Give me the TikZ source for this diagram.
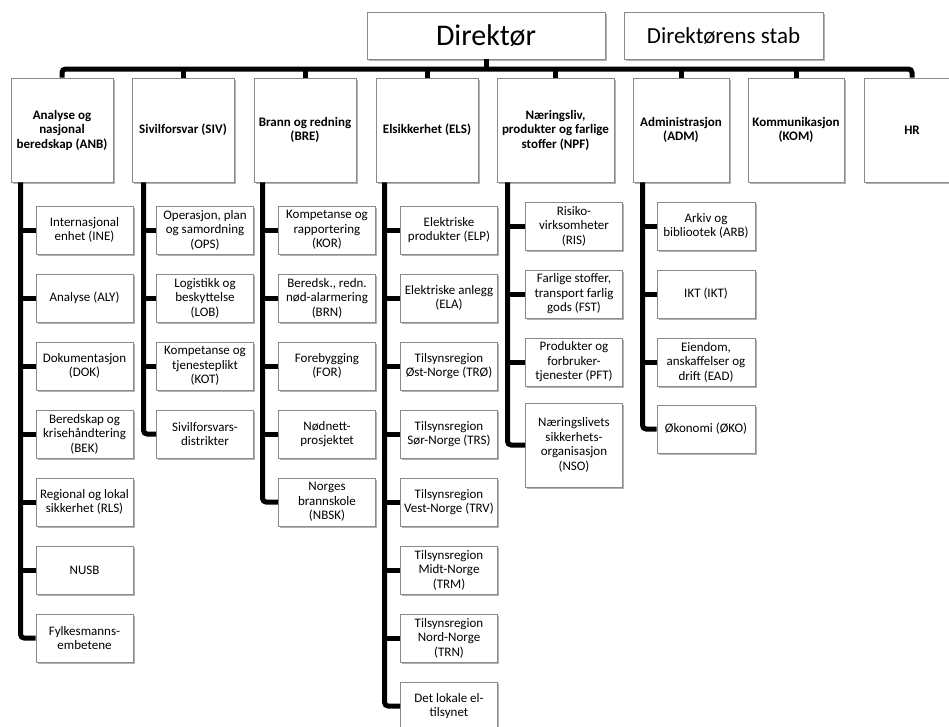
\documentclass[tikz,border=0pt]{standalone}
\usepackage{fontspec}
\setmainfont{Carlito}
\usetikzlibrary{shadows}
\definecolor{edge}{HTML}{8A8A8A}
\begin{document}
\begin{tikzpicture}[x=1pt,y=-1pt,
  box/.style={draw=edge, line width=0.9pt, fill=white, align=center, inner sep=0pt,
    drop shadow={shadow xshift=1.5pt, shadow yshift=-2pt, opacity=0.3, fill=black}},
  headbox/.style={box, minimum width=#1, minimum height=47pt},
  dept/.style={box, minimum width=#1, minimum height=104pt,
    font=\fontsize{13}{14.5}\selectfont\bfseries},
  unit/.style={box, minimum width=97pt, minimum height=48pt,
    font=\fontsize{13}{14.5}\selectfont},
  link/.style={line width=5pt, rounded corners=3.5pt}]
\useasboundingbox (0,0) rectangle (949,726);
\clip (0,0) rectangle (949,726);
\fill[white] (0,0) rectangle (949,726);

% top level
\node[headbox=238pt, font=\fontsize{30}{36}\selectfont] (DIR) at (486,35.5) {Direktør};
\node[headbox=199pt, font=\fontsize{23}{28}\selectfont] (STAB) at (723.5,35.5) {Direktørens stab};

% departments
\node[dept=102pt] (ANB) at (62,130) {Analyse og\\nasjonal\\beredskap (ANB)};
\node[dept=102pt] (SIV) at (183,130) {Sivilforsvar (SIV)};
\node[dept=102pt] (BRE) at (305,130) {Brann og redning\\(BRE)};
\node[dept=102pt] (ELS) at (427,130) {Elsikkerhet (ELS)};
\node[dept=117pt] (NPF) at (555.5,130) {Næringsliv,\\produkter og farlige\\stoffer (NPF)};
\node[dept=96pt] (ADM) at (681,130) {Administrasjon\\(ADM)};
\node[dept=96pt] (KOM) at (796,130) {Kommunikasjon\\(KOM)};
\node[dept=96pt] (HR) at (912,130) {HR};

% director to departments
\coordinate (barY) at (0,69);
\draw[link] (ANB.north) |- (barY -| HR.north) -- (HR.north);
\draw[link] (DIR.south) -- (DIR.south |- barY);
\foreach \d in {SIV,BRE,ELS,NPF,ADM,KOM}
  \draw[link] (\d.north) -- (\d.north |- barY);

% ANB units
\node[unit] (INE) at (84.5,230) {Internasjonal\\enhet (INE)};
\node[unit] (ALY) at (84.5,298) {Analyse (ALY)};
\node[unit] (DOK) at (84.5,366) {Dokumentasjon\\(DOK)};
\node[unit] (BEK) at (84.5,434) {Beredskap og\\krisehåndtering\\(BEK)};
\node[unit] (RLS) at (84.5,502) {Regional og lokal\\sikkerhet (RLS)};
\node[unit] (NUSB) at (84.5,570) {NUSB};
\node[unit] (FYL) at (84.5,638) {Fylkesmanns-\\embetene};

% SIV units
\node[unit] (OPS) at (205,230) {Operasjon, plan\\og samordning\\(OPS)};
\node[unit] (LOB) at (205,298) {Logistikk og\\beskyttelse\\(LOB)};
\node[unit] (KOT) at (205,366) {Kompetanse og\\tjenesteplikt\\(KOT)};
\node[unit] (SFD) at (205,434) {Sivilforsvars-\\distrikter};

% BRE units
\node[unit] (KOR) at (327,230) {Kompetanse og\\rapportering\\(KOR)};
\node[unit] (BRN) at (327,298) {Beredsk., redn.\\nød-alarmering\\(BRN)};
\node[unit] (FOR) at (327,366) {Forebygging\\(FOR)};
\node[unit] (NNP) at (327,434) {Nødnett-\\prosjektet};
\node[unit] (NBSK) at (327,502) {Norges\\brannskole\\(NBSK)};

% ELS units
\node[unit] (ELP) at (449,230) {Elektriske\\produkter (ELP)};
\node[unit] (ELA) at (449,298) {Elektriske anlegg\\(ELA)};
\node[unit] (TRO) at (449,366) {Tilsynsregion\\Øst-Norge (TRØ)};
\node[unit] (TRS) at (449,434) {Tilsynsregion\\Sør-Norge (TRS)};
\node[unit] (TRV) at (449,502) {Tilsynsregion\\Vest-Norge (TRV)};
\node[unit] (TRM) at (449,570) {Tilsynsregion\\Midt-Norge\\(TRM)};
\node[unit] (TRN) at (449,638) {Tilsynsregion\\Nord-Norge\\(TRN)};
\node[unit] (DLE) at (449,706) {Det lokale el-\\tilsynet};

% NPF units
\node[unit] (RIS) at (574,226) {Risiko-\\virksomheter\\(RIS)};
\node[unit] (FST) at (574,294) {Farlige stoffer,\\transport farlig\\gods (FST)};
\node[unit] (PFT) at (574,362) {Produkter og\\forbruker-\\tjenester (PFT)};
\node[unit, minimum height=84pt] (NSO) at (574,445) {Næringslivets\\sikkerhets-\\organisasjon\\(NSO)};

% ADM units
\node[unit, minimum width=98pt] (ARB) at (706,226) {Arkiv og\\bibliootek (ARB)};
\node[unit, minimum width=98pt] (IKT) at (706,294) {IKT (IKT)};
\node[unit, minimum width=98pt] (EAD) at (706,362) {Eiendom,\\anskaffelser og\\drift (EAD)};
\node[unit, minimum width=98pt] (OKO) at (706,429) {Økonomi (ØKO)};

% department spines
\coordinate (anbL) at ([xshift=10pt]ANB.south west);
\coordinate (sivL) at ([xshift=12pt]SIV.south west);
\coordinate (breL) at ([xshift=9pt]BRE.south west);
\coordinate (elsL) at ([xshift=9pt]ELS.south west);
\coordinate (npfL) at ([xshift=11pt]NPF.south west);
\coordinate (admL) at ([xshift=10pt]ADM.south west);

\draw[link] (anbL) |- (FYL.west);
\foreach \u in {INE,ALY,DOK,BEK,RLS,NUSB} \draw[link] (anbL |- \u.west) -- (\u.west);
\draw[link] (sivL) |- (SFD.west);
\foreach \u in {OPS,LOB,KOT} \draw[link] (sivL |- \u.west) -- (\u.west);
\draw[link] (breL) |- (NBSK.west);
\foreach \u in {KOR,BRN,FOR,NNP} \draw[link] (breL |- \u.west) -- (\u.west);
\draw[link] (elsL) |- (DLE.west);
\foreach \u in {ELP,ELA,TRO,TRS,TRV,TRM,TRN} \draw[link] (elsL |- \u.west) -- (\u.west);
\draw[link] (npfL) |- (NSO.west);
\foreach \u in {RIS,FST,PFT} \draw[link] (npfL |- \u.west) -- (\u.west);
\draw[link] (admL) |- (OKO.west);
\foreach \u in {ARB,IKT,EAD} \draw[link] (admL |- \u.west) -- (\u.west);
\end{tikzpicture}
\end{document}
